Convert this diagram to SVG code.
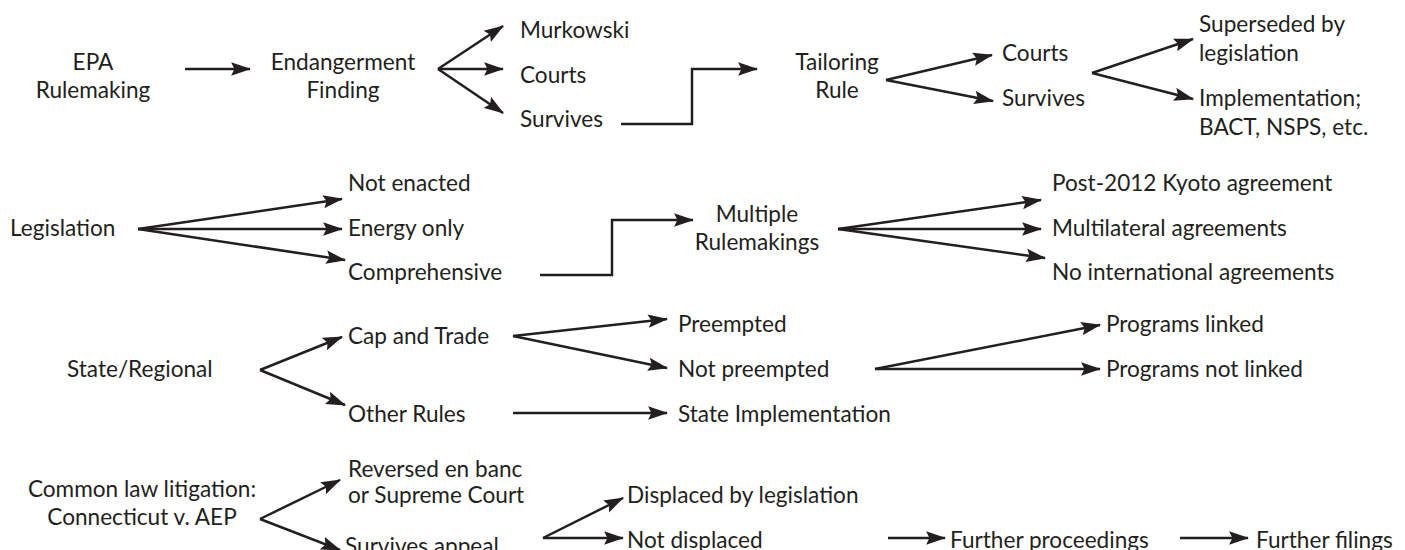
<svg xmlns="http://www.w3.org/2000/svg" width="1405" height="550" viewBox="0 0 1405 550">
<style>
text{font-family:Lato,"Open Sans","DejaVu Sans",sans-serif;font-size:22.6px;fill:#231f20}
.c{text-anchor:middle}
.ln{fill:none;stroke:#231f20;stroke-width:2.5}
.ar{marker-end:url(#ah)}
</style>
<defs>
<marker id="ah" markerUnits="userSpaceOnUse" markerWidth="20" markerHeight="14" viewBox="0 0 18 12" refX="17" refY="6" orient="auto">
<path d="M0,0 L18,6 L0,12 L3,6 z" fill="#231f20"/>
</marker>
</defs>
<rect width="1405" height="550" fill="#fff"/>
<g id="n-epa"><text class="c" x="93" y="70">EPA</text><text class="c" x="93" y="98">Rulemaking</text></g>
<g id="n-endanger"><text class="c" x="343" y="70">Endangerment</text><text class="c" x="343" y="98">Finding</text></g>
<g id="n-murkowski"><text x="520" y="38">Murkowski</text></g>
<g id="n-courts1"><text x="520" y="83">Courts</text></g>
<g id="n-survives1"><text x="520" y="127">Survives</text></g>
<g id="n-tailoring"><text class="c" x="837" y="70">Tailoring</text><text class="c" x="837" y="98">Rule</text></g>
<g id="n-courts2"><text x="1002" y="61">Courts</text></g>
<g id="n-survives2"><text x="1002" y="106">Survives</text></g>
<g id="n-superseded"><text x="1199" y="32">Superseded by</text><text x="1199" y="61">legislation</text></g>
<g id="n-implementation"><text x="1199" y="106">Implementation;</text><text x="1199" y="135">BACT, NSPS, etc.</text></g>

<g id="n-legislation"><text x="10" y="236">Legislation</text></g>
<g id="n-notenacted"><text x="348" y="191">Not enacted</text></g>
<g id="n-energy"><text x="348" y="236">Energy only</text></g>
<g id="n-comprehensive"><text x="348" y="280">Comprehensive</text></g>
<g id="n-multiple"><text class="c" x="757" y="222">Multiple</text><text class="c" x="757" y="250">Rulemakings</text></g>
<g id="n-kyoto"><text x="1052" y="191">Post-2012 Kyoto agreement</text></g>
<g id="n-multilateral"><text x="1052" y="236">Multilateral agreements</text></g>
<g id="n-nointl"><text x="1052" y="280">No international agreements</text></g>

<g id="n-state"><text x="67" y="377">State/Regional</text></g>
<g id="n-cap"><text x="348" y="344">Cap and Trade</text></g>
<g id="n-other"><text x="348" y="422">Other Rules</text></g>
<g id="n-preempted"><text x="678" y="332">Preempted</text></g>
<g id="n-notpreempted"><text x="678" y="377">Not preempted</text></g>
<g id="n-stateimpl"><text x="678" y="422">State Implementation</text></g>
<g id="n-linked"><text x="1106" y="332">Programs linked</text></g>
<g id="n-notlinked"><text x="1106" y="377">Programs not linked</text></g>

<g id="n-common"><text class="c" x="142" y="497">Common law litigation:</text><text class="c" x="142" y="525">Connecticut v. AEP</text></g>
<g id="n-reversed"><text x="348" y="477">Reversed en banc</text><text x="348" y="503">or Supreme Court</text></g>
<g id="n-survivesappeal"><text x="345" y="554">Survives appeal</text></g>
<g id="n-displaced"><text x="627" y="503">Displaced by legislation</text></g>
<g id="n-notdisplaced"><text x="627" y="548">Not displaced</text></g>
<g id="n-further"><text x="950" y="548">Further proceedings</text></g>
<g id="n-filings"><text x="1256" y="548">Further filings</text></g>

<g id="connectors">
<path class="ln ar" d="M185,69 L250,69"/>
<path class="ln ar" d="M438,69 L503,26"/>
<path class="ln ar" d="M438,69 L503,69"/>
<path class="ln ar" d="M438,69 L503,113"/>
<path class="ln ar" d="M621,124 H692 V69 H757"/>
<path class="ln ar" d="M886,80 L992,55"/>
<path class="ln ar" d="M886,80 L993,101"/>
<path class="ln ar" d="M1092,73 L1193,39"/>
<path class="ln ar" d="M1092,73 L1193,99"/>

<path class="ln ar" d="M138,229 L342,199"/>
<path class="ln ar" d="M138,229 L342,229"/>
<path class="ln ar" d="M138,229 L345,260"/>
<path class="ln ar" d="M540,275 H612 V220 H693"/>
<path class="ln ar" d="M838,229 L1041,200"/>
<path class="ln ar" d="M838,229 L1041,229"/>
<path class="ln ar" d="M838,229 L1045,258"/>

<path class="ln ar" d="M260,370 L342,337"/>
<path class="ln ar" d="M260,370 L345,405"/>
<path class="ln ar" d="M513,336 L667,319"/>
<path class="ln ar" d="M513,336 L667,368"/>
<path class="ln ar" d="M513,413 H667"/>
<path class="ln ar" d="M875,369 L1100,325"/>
<path class="ln ar" d="M875,369 L1100,369"/>

<path class="ln ar" d="M260,519 L340,480"/>
<path class="ln ar" d="M260,519 L340,550"/>
<path class="ln ar" d="M543,538 L623,498"/>
<path class="ln ar" d="M543,538 L623,538"/>
<path class="ln ar" d="M888,538 H945"/>
<path class="ln ar" d="M1180,538 H1248"/>
</g>
</svg>
